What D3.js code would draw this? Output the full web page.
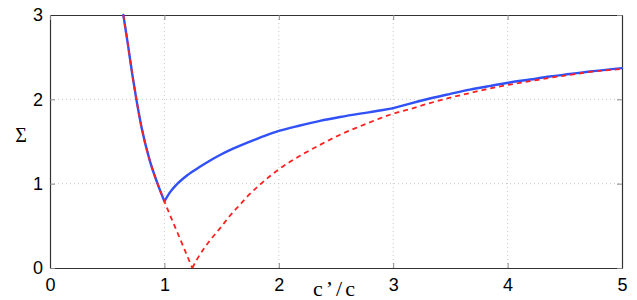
<!DOCTYPE html>
<html>
<head>
<meta charset="utf-8">
<script src="https://cdn.jsdelivr.net/npm/d3@7"></script>
<style>
  body { margin: 0; background: #fff; }
</style>
</head>
<body>
<div id="chart"></div>
<script>
// values
var xTicks = [0, 1, 2, 3, 4, 5];
var yTicks = [0, 1, 2, 3];

// shared steep branch (both curves), c'/c < 1
var leftX = [0.641, 0.679, 0.72, 0.755, 0.80, 0.871, 0.94, 0.997];
var leftY = [3.0, 2.67, 2.29, 2.0, 1.67, 1.28, 1.0, 0.8];

// solid blue curve, c'/c from 1 to 3 and from 3 to 5
var blueMidX = [1.0, 1.05, 1.107, 1.2, 1.31, 1.4, 1.486, 1.6, 1.72, 1.836, 2.0, 2.185, 2.36, 2.535, 2.71, 2.885, 3.0];
var blueMidY = [0.79, 0.9, 0.99, 1.1, 1.2, 1.275, 1.34, 1.415, 1.485, 1.545, 1.625, 1.69, 1.745, 1.79, 1.83, 1.867, 1.895];
var blueEndX = [3.0, 3.147, 3.32, 3.5, 3.67, 3.85, 4.02, 4.196, 4.37, 4.545, 4.72, 5.0];
var blueEndY = [1.895, 1.95, 2.01, 2.065, 2.115, 2.16, 2.2, 2.235, 2.27, 2.3, 2.33, 2.37];

// dashed red curve, falling to zero and rising again
var redDropX = [0.997, 1.12, 1.244];
var redDropY = [0.8, 0.4, 0.0];
var redRiseX = [1.244, 1.282, 1.4, 1.486, 1.573, 1.66, 1.72, 1.836, 2.0, 2.185, 2.36, 2.535, 2.71, 2.885, 3.0,
                3.147, 3.32, 3.5, 3.67, 3.85, 4.02, 4.196, 4.37, 4.545, 4.72, 5.0];
var redRiseY = [0.0, 0.095, 0.33, 0.47, 0.62, 0.75, 0.84, 0.99, 1.17, 1.33, 1.46, 1.58, 1.68, 1.775, 1.83,
                1.885, 1.955, 2.02, 2.075, 2.13, 2.175, 2.215, 2.255, 2.29, 2.325, 2.36];

function pts(xs, ys) { return xs.map(function(d, i) { return {x: d, y: ys[i]}; }); }

var margin = {top: 15, right: 15, bottom: 32, left: 50},
    width = 637 - margin.left - margin.right,
    height = 300 - margin.top - margin.bottom;

var svg = d3.select("#chart")
  .append("svg")
    .attr("width", 637)
    .attr("height", 300)
  .append("g")
    .attr("transform", "translate(" + margin.left + "," + margin.top + ")");

var x = d3.scaleLinear().domain([0, 5]).range([0, width]);
var y = d3.scaleLinear().domain([0, 3]).range([height, 0]);

// dotted grid
svg.append("g").selectAll("line")
  .data(xTicks.slice(1, -1))
  .enter().append("line")
    .attr("x1", function(d) { return x(d); })
    .attr("x2", function(d) { return x(d); })
    .attr("y1", 0).attr("y2", height)
    .attr("stroke", "#c8c8c8")
    .attr("stroke-dasharray", "1,3");
svg.append("g").selectAll("line")
  .data(yTicks.slice(1, -1))
  .enter().append("line")
    .attr("y1", function(d) { return y(d); })
    .attr("y2", function(d) { return y(d); })
    .attr("x1", 0).attr("x2", width)
    .attr("stroke", "#c8c8c8")
    .attr("stroke-dasharray", "1,3");

// axes with inward ticks
var font = "'Liberation Sans', Arial, sans-serif";
var axBottom = svg.append("g")
  .attr("transform", "translate(0," + height + ")")
  .call(d3.axisBottom(x).tickValues(xTicks).tickSizeInner(-5).tickSizeOuter(0).tickPadding(10).tickFormat(d3.format("d")));
var axLeft = svg.append("g")
  .call(d3.axisLeft(y).tickValues(yTicks).tickSizeInner(-5).tickSizeOuter(0).tickPadding(7).tickFormat(d3.format("d")));
var axTop = svg.append("g")
  .call(d3.axisTop(x).tickValues(xTicks).tickSizeInner(-5).tickSizeOuter(0).tickFormat(""));
var axRight = svg.append("g")
  .attr("transform", "translate(" + width + ",0)")
  .call(d3.axisRight(y).tickValues(yTicks).tickSizeInner(-5).tickSizeOuter(0).tickFormat(""));

[axBottom, axLeft, axTop, axRight].forEach(function(a) {
  a.select(".domain").attr("stroke", "#333").attr("stroke-width", 1.2);
  a.selectAll(".tick line").attr("stroke", "#888");
  a.selectAll("text").attr("font-family", font).attr("font-size", 18).attr("fill", "#000");
});

// curves
var line = d3.line()
  .x(function(d) { return x(d.x); })
  .y(function(d) { return y(d.y); })
  .curve(d3.curveMonotoneX);

[pts(leftX, leftY), pts(blueMidX, blueMidY), pts(blueEndX, blueEndY)].forEach(function(seg) {
  svg.append("path")
    .datum(seg)
    .attr("fill", "none")
    .attr("stroke", "#3050f8")
    .attr("stroke-width", 2.4)
    .attr("stroke-linejoin", "round")
    .attr("stroke-linecap", "round")
    .attr("d", line);
});

// red: down branch and up branch drawn apart so the V stays sharp
var redDown = pts(leftX, leftY).concat(pts(redDropX, redDropY).slice(1));
[redDown, pts(redRiseX, redRiseY)].forEach(function(seg) {
  svg.append("path")
    .datum(seg)
    .attr("fill", "none")
    .attr("stroke", "#ff2020")
    .attr("stroke-width", 1.8)
    .attr("stroke-dasharray", "5,4")
    .attr("d", line);
});

// axis labels
svg.append("text")
  .attr("x", -29).attr("y", 127)
  .attr("font-family", "'Liberation Serif', 'Times New Roman', serif")
  .attr("font-size", 20)
  .attr("text-anchor", "middle")
  .text("Σ");
svg.append("text")
  .attr("x", 263).attr("y", 281)
  .attr("font-family", "'Liberation Serif', 'Times New Roman', serif")
  .attr("font-size", 22)
  .attr("letter-spacing", 3)
  .text("c’/c");
</script>
</body>
</html>
